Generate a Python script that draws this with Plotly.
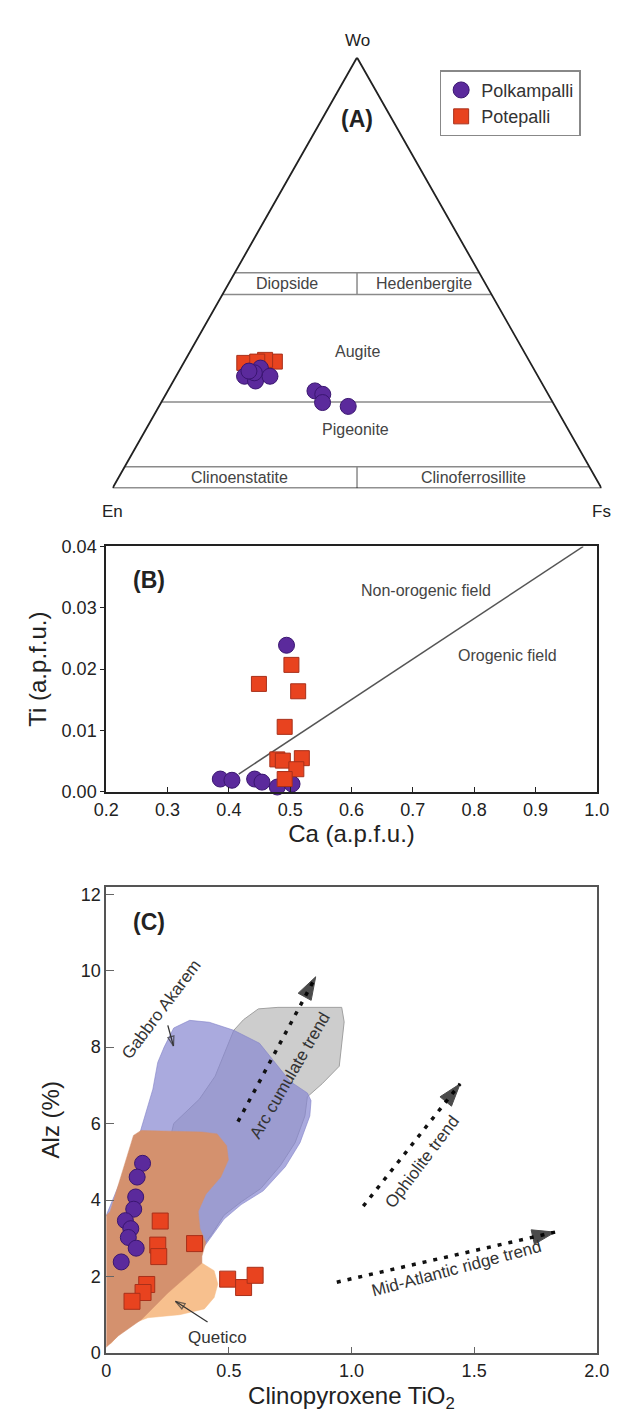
import plotly.graph_objects as go

# ---------------- DATA ----------------
# (A) Ternary Wo-En-Fs (percent)
polk_wo = [26.0, 24.9, 27.9, 26.0, 26.8, 27.2, 22.6, 21.8, 19.9, 19.0]
polk_en = [60.0, 58.3, 55.8, 54.8, 57.6, 58.5, 47.3, 46.1, 47.1, 42.3]
polk_fs = [14.0, 16.8, 16.3, 19.2, 15.6, 14.3, 30.1, 32.1, 33.0, 38.7]
pote_wo = [29.1, 29.4, 29.8, 29.4]
pote_en = [58.5, 52.1, 53.9, 55.7]
pote_fs = [12.4, 18.5, 16.3, 14.9]
wo_boundaries = [50, 45, 20, 5]
divider_bands = [(45, 50), (0, 5)]
field_names_a = ["Diopside", "Hedenbergite", "Augite", "Pigeonite", "Clinoenstatite", "Clinoferrosillite"]

# (B) Ca vs Ti
b_polk_ca = [0.386, 0.405, 0.442, 0.454, 0.479, 0.494, 0.503]
b_polk_ti = [0.0021, 0.0019, 0.0021, 0.0016, 0.0008, 0.0239, 0.0013]
b_pote_ca = [0.449, 0.502, 0.513, 0.491, 0.479, 0.488, 0.519, 0.510, 0.491]
b_pote_ti = [0.0176, 0.0207, 0.0164, 0.0106, 0.0053, 0.0051, 0.0055, 0.0037, 0.0021]
b_line_ca = [0.416, 0.978]
b_line_ti = [0.0029, 0.0400]

# (C) TiO2 vs Alz
c_polk_tio2 = [0.148, 0.126, 0.120, 0.112, 0.078, 0.100, 0.090, 0.122, 0.061]
c_polk_alz = [4.96, 4.60, 4.08, 3.76, 3.46, 3.25, 3.02, 2.74, 2.38]
c_pote_tio2 = [0.220, 0.210, 0.214, 0.360, 0.165, 0.150, 0.105, 0.495, 0.560, 0.607]
c_pote_alz = [3.45, 2.82, 2.52, 2.86, 1.79, 1.58, 1.35, 1.93, 1.71, 2.03]

gray_field_x = [0.275, 0.38, 0.444, 0.52, 0.56, 0.62, 0.70, 0.96, 0.97, 0.95, 0.88, 0.82, 0.81, 0.77, 0.71, 0.63, 0.55, 0.48, 0.43, 0.40, 0.30, 0.22, 0.275]
gray_field_y = [6.0, 6.64, 7.24, 8.44, 8.72, 9.0, 9.04, 9.04, 8.66, 7.5, 7.04, 6.7, 6.2, 5.5, 4.9, 4.3, 3.95, 3.6, 3.1, 2.85, 3.2, 4.5, 6.0]

purple_field_x = [0.0, 0.06, 0.13, 0.19, 0.21, 0.236, 0.275, 0.34, 0.42, 0.52, 0.625, 0.75, 0.82, 0.835, 0.83, 0.79, 0.73, 0.64, 0.55, 0.48, 0.42, 0.39, 0.36, 0.20, 0.05, 0.0]
purple_field_y = [3.6, 4.5, 5.6, 6.9, 7.6, 8.0, 8.5, 8.7, 8.65, 8.44, 8.1, 7.1, 6.8, 6.6, 6.2, 5.5, 4.87, 4.24, 3.88, 3.5, 2.98, 2.7, 2.6, 2.8, 3.2, 3.6]

quetico_x = [0.0, 0.02, 0.08, 0.17, 0.30, 0.40, 0.44, 0.455, 0.44, 0.39, 0.30, 0.15, 0.0]
quetico_y = [0.2, 0.25, 0.70, 0.92, 1.0, 1.15, 1.45, 1.8, 2.15, 2.35, 2.4, 1.5, 0.2]

salmon_x = [0.0, 0.0, 0.016, 0.111, 0.142, 0.266, 0.39, 0.452, 0.491, 0.498, 0.467, 0.406, 0.375, 0.382, 0.406, 0.39, 0.39, 0.25, 0.145, 0.05, 0.0]
salmon_y = [0.15, 3.6, 3.7, 5.69, 5.82, 5.79, 5.78, 5.73, 5.42, 5.05, 4.6, 4.15, 3.7, 3.25, 2.89, 2.53, 2.35, 1.56, 0.88, 0.45, 0.15]

trend_names = ["Arc cumulate trend", "Ophiolite trend", "Mid-Atlantic ridge trend"]
trend_x0 = [0.537, 1.048, 0.94]
trend_y0 = [6.05, 3.84, 1.85]
trend_x1 = [0.854, 1.443, 1.83]
trend_y1 = [9.84, 7.04, 3.16]

pointer_names = ["Gabbro Akarem", "Quetico"]
pointer_x0 = [0.251, 0.413]
pointer_y0 = [8.57, 0.81]
pointer_x1 = [0.274, 0.282]
pointer_y1 = [8.03, 1.35]

# ---------------- STYLE ----------------
W, H = 619, 1418
FONT = "Liberation Sans, Arial, sans-serif"
PURPLE, PURPLE_EDGE = "#5b2a9c", "#3a1670"
RED, RED_EDGE = "#e8431f", "#a8301a"


def px_dom(a, b):
    return [a / W, b / W]


def py_dom(top, bottom):
    return [1 - bottom / H, 1 - top / H]


def tern(wo, fs):
    return [(f + w / 2) / 100 for w, f in zip(wo, fs)], [w / 100 for w in wo]


fig = go.Figure()

# ---- Panel A ----
tri_x = [0, 1, 0.5, 0]
tri_y = [0, 0, 1, 0]
for w in wo_boundaries:
    fig.add_trace(go.Scatter(x=[w / 200, 1 - w / 200], y=[w / 100, w / 100], mode="lines",
                             line=dict(color="#8a8a8a", width=1.5), showlegend=False, hoverinfo="skip",
                             xaxis="x", yaxis="y"))
for lo, hi in divider_bands:
    fig.add_trace(go.Scatter(x=[0.5, 0.5], y=[lo / 100, hi / 100], mode="lines",
                             line=dict(color="#8a8a8a", width=1.5), showlegend=False, hoverinfo="skip",
                             xaxis="x", yaxis="y"))
fig.add_trace(go.Scatter(x=tri_x, y=tri_y, mode="lines", line=dict(color="#222", width=1.8),
                         showlegend=False, hoverinfo="skip", xaxis="x", yaxis="y"))

ax, ay = tern(pote_wo, pote_fs)
fig.add_trace(go.Scatter(x=ax, y=ay, mode="markers", name="Potepalli", legendrank=2,
                         marker=dict(symbol="square", size=15, color=RED, line=dict(color=RED_EDGE, width=1)),
                         xaxis="x", yaxis="y"))
ax, ay = tern(polk_wo, polk_fs)
fig.add_trace(go.Scatter(x=ax, y=ay, mode="markers", name="Polkampalli", legendrank=1,
                         marker=dict(symbol="circle", size=16, color=PURPLE, line=dict(color=PURPLE_EDGE, width=1)),
                         xaxis="x", yaxis="y"))

# ---- Panel B ----
fig.add_trace(go.Scatter(x=b_line_ca, y=b_line_ti, mode="lines", line=dict(color="#555", width=1.5),
                         showlegend=False, hoverinfo="skip", xaxis="x2", yaxis="y2"))
fig.add_trace(go.Scatter(x=b_polk_ca, y=b_polk_ti, mode="markers", showlegend=False, cliponaxis=False,
                         marker=dict(symbol="circle", size=16, color=PURPLE, line=dict(color=PURPLE_EDGE, width=1)),
                         xaxis="x2", yaxis="y2"))
fig.add_trace(go.Scatter(x=b_pote_ca, y=b_pote_ti, mode="markers", showlegend=False, cliponaxis=False,
                         marker=dict(symbol="square", size=15, color=RED, line=dict(color=RED_EDGE, width=1)),
                         xaxis="x2", yaxis="y2"))

# ---- Panel C ----
fig.add_trace(go.Scatter(x=gray_field_x, y=gray_field_y, mode="lines", fill="toself",
                         fillcolor="rgba(200,200,200,0.9)", line=dict(color="rgba(160,160,160,1)", width=1),
                         showlegend=False, hoverinfo="skip", xaxis="x3", yaxis="y3"))
fig.add_trace(go.Scatter(x=purple_field_x, y=purple_field_y, mode="lines", fill="toself",
                         fillcolor="rgba(135,135,208,0.71)", line=dict(color="rgba(130,130,200,0.6)", width=1),
                         showlegend=False, hoverinfo="skip", xaxis="x3", yaxis="y3"))
fig.add_trace(go.Scatter(x=quetico_x, y=quetico_y, mode="lines", fill="toself",
                         fillcolor="#f7c08e", line=dict(color="#f7c08e", width=0.5),
                         showlegend=False, hoverinfo="skip", xaxis="x3", yaxis="y3"))
fig.add_trace(go.Scatter(x=salmon_x, y=salmon_y, mode="lines", fill="toself",
                         fillcolor="#d4916e", line=dict(color="#d4916e", width=0.5),
                         showlegend=False, hoverinfo="skip", xaxis="x3", yaxis="y3"))
for i in range(len(trend_names)):
    fig.add_trace(go.Scatter(x=[trend_x0[i], trend_x1[i]], y=[trend_y0[i], trend_y1[i]], mode="lines",
                             line=dict(color="#111", width=3.5, dash="4px,7px"),
                             showlegend=False, hoverinfo="skip", xaxis="x3", yaxis="y3"))
    fig.add_trace(go.Scatter(x=[trend_x0[i], trend_x1[i]], y=[trend_y0[i], trend_y1[i]], mode="markers",
                             marker=dict(symbol="arrow", size=[0, 24], angleref="previous", color="#000",
                                         line=dict(width=1, color="#000")),
                             showlegend=False, hoverinfo="skip", xaxis="x3", yaxis="y3"))
for i in range(len(pointer_names)):
    fig.add_trace(go.Scatter(x=[pointer_x0[i], pointer_x1[i]], y=[pointer_y0[i], pointer_y1[i]],
                             mode="lines+markers", line=dict(color="#333", width=1.3),
                             marker=dict(symbol="arrow-open", size=[0, 10], angleref="previous", color="#333",
                                         line=dict(width=1.3, color="#333")),
                             showlegend=False, hoverinfo="skip", xaxis="x3", yaxis="y3"))
fig.add_trace(go.Scatter(x=c_polk_tio2, y=c_polk_alz, mode="markers", showlegend=False,
                         marker=dict(symbol="circle", size=16, color=PURPLE, line=dict(color=PURPLE_EDGE, width=1)),
                         xaxis="x3", yaxis="y3"))
fig.add_trace(go.Scatter(x=c_pote_tio2, y=c_pote_alz, mode="markers", showlegend=False,
                         marker=dict(symbol="square", size=16, color=RED, line=dict(color=RED_EDGE, width=1)),
                         xaxis="x3", yaxis="y3"))

ann = []
# Panel A labels (positions in triangle axes)
a_pos = [(0.357, 0.476), (0.637, 0.476), (0.502, 0.318), (0.497, 0.137), (0.26, 0.024), (0.739, 0.024)]
for name, (x, y) in zip(field_names_a, a_pos):
    ann.append(dict(x=x, y=y, xref="x", yref="y", text=name, showarrow=False,
                    font=dict(size=16, color="#444", family=FONT)))
ann.append(dict(x=0.5, y=0.856, xref="x", yref="y", text="<b>(A)</b>", showarrow=False,
                font=dict(size=23, color="#222", family=FONT)))
ann.append(dict(x=0.5, y=1.0, xref="x", yref="y", text="Wo", showarrow=False, yanchor="bottom", yshift=5,
                font=dict(size=17, color="#222", family=FONT)))
ann.append(dict(x=0.0, y=0.0, xref="x", yref="y", text="En", showarrow=False, yanchor="top", yshift=-12,
                font=dict(size=17, color="#222", family=FONT)))
ann.append(dict(x=1.0, y=0.0, xref="x", yref="y", text="Fs", showarrow=False, yanchor="top", yshift=-12,
                font=dict(size=17, color="#222", family=FONT)))

# Panel B labels
ann.append(dict(x=0.269, y=0.0345, xref="x2", yref="y2", text="<b>(B)</b>", showarrow=False,
                font=dict(size=23, color="#222", family=FONT)))
ann.append(dict(x=0.722, y=0.0329, xref="x2", yref="y2", text="Non-orogenic field", showarrow=False,
                font=dict(size=16, color="#444", family=FONT)))
ann.append(dict(x=0.855, y=0.0222, xref="x2", yref="y2", text="Orogenic field", showarrow=False,
                font=dict(size=16, color="#444", family=FONT)))

# Panel C labels
ann.append(dict(x=0.173, y=11.28, xref="x3", yref="y3", text="<b>(C)</b>", showarrow=False,
                font=dict(size=23, color="#222", family=FONT)))
c_labels = [("Gabbro Akarem", 0.225, 8.98, -53), ("Arc cumulate trend", 0.75, 7.25, -60),
            ("Ophiolite trend", 1.29, 5.0, -53), ("Mid-Atlantic ridge trend", 1.43, 2.22, -15),
            ("Quetico", 0.452, 0.41, 0)]
for t, x, y, ang in c_labels:
    ann.append(dict(x=x, y=y, xref="x3", yref="y3", text=t, showarrow=False, textangle=ang,
                    font=dict(size=17, color="#333", family=FONT)))

tickfont = dict(size=18, color="#222", family=FONT)
titlefont = dict(size=24, color="#222", family=FONT)

fig.update_layout(
    width=W, height=H, margin=dict(l=0, r=0, t=0, b=0),
    paper_bgcolor="white", plot_bgcolor="rgba(0,0,0,0)",
    font=dict(family=FONT, color="#222"),
    annotations=ann,
    legend=dict(x=437 / W, y=1 - 53 / H, xanchor="left", yanchor="top",
                bordercolor="#888", borderwidth=1.5, bgcolor="white",
                font=dict(size=18, color="#333", family=FONT), tracegroupgap=0),
    xaxis=dict(domain=px_dom(95.5, 606), range=[0, 1], visible=False, fixedrange=True),
    yaxis=dict(domain=py_dom(40, 477), range=[0, 1], visible=False, fixedrange=True),
    xaxis2=dict(domain=px_dom(89, 601), range=[0.2, 1.0], anchor="y2", dtick=0.1, tickformat=".1f",
                ticks="inside", ticklen=5, tickcolor="#222", showline=True, linecolor="#222", linewidth=2,
                mirror=True, showgrid=False, zeroline=False, tickfont=tickfont,
                title=dict(text="Ca (a.p.f.u.)", font=titlefont, standoff=6)),
    yaxis2=dict(domain=py_dom(536, 785), range=[0, 0.04], anchor="x2", dtick=0.01, tickformat=".2f",
                ticks="outside", ticklen=4, tickcolor="#222", showline=True, linecolor="#222", linewidth=2,
                mirror=True, showgrid=False, zeroline=False, tickfont=tickfont,
                title=dict(text="Ti (a.p.f.u.)", font=titlefont, standoff=8)),
    xaxis3=dict(domain=px_dom(89, 601), range=[0, 2], anchor="y3", tickvals=[0, 0.5, 1.0, 1.5, 2.0],
                ticktext=["0", "0.5", "1.0", "1.5", "2.0"],
                ticks="inside", ticklen=6, tickcolor="#666", showline=True, linecolor="#555", linewidth=2,
                mirror=True, showgrid=False, zeroline=False, tickfont=tickfont,
                title=dict(text="Clinopyroxene TiO<sub>2</sub>", font=titlefont, standoff=8)),
    yaxis3=dict(domain=py_dom(881, 1354), range=[0, 12.2], anchor="x3", tickvals=[0, 2, 4, 6, 8, 10, 12],
                ticks="inside", ticklen=8, tickcolor="#666", showline=True, linecolor="#555", linewidth=2,
                mirror=True, showgrid=False, zeroline=False, tickfont=tickfont,
                title=dict(text="Alz (%)", font=titlefont, standoff=14)),
)

fig.write_html("out.html")
